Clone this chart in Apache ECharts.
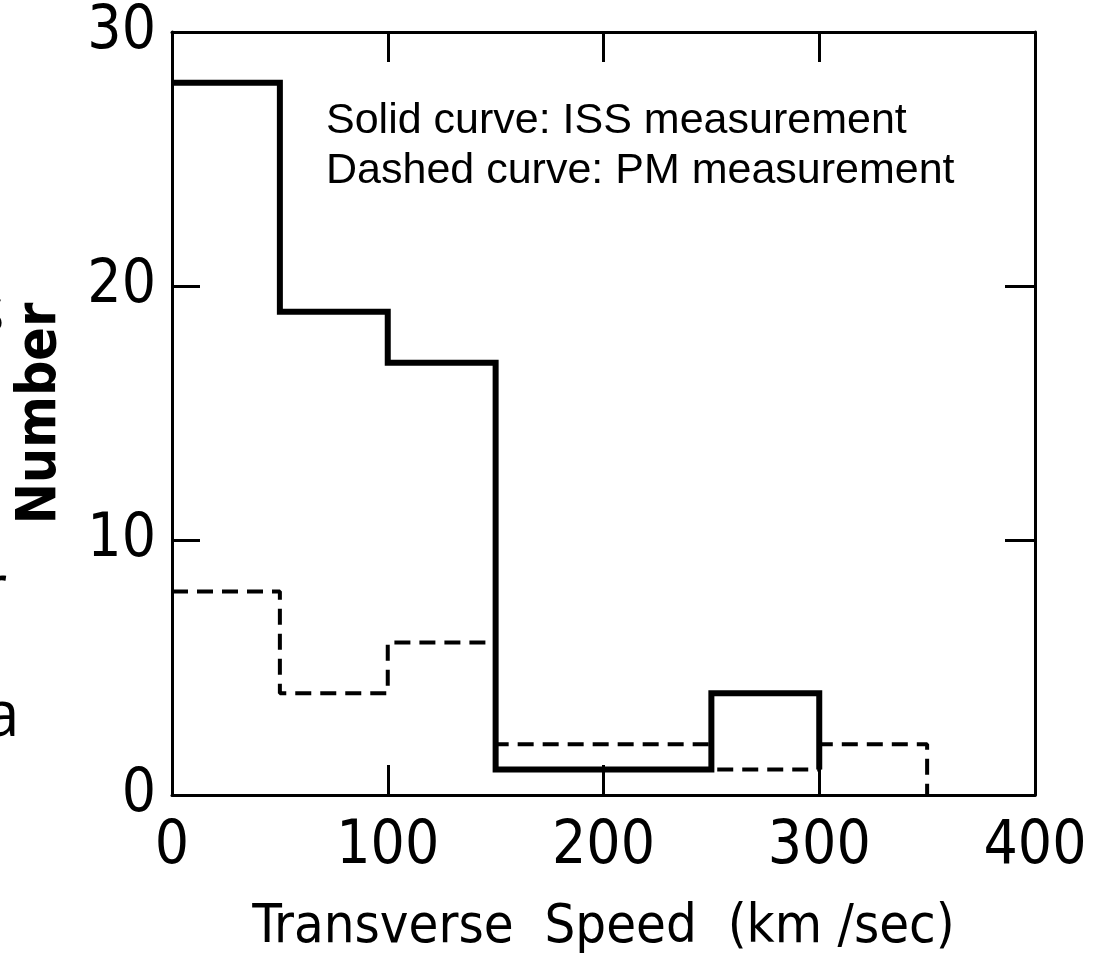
<!DOCTYPE html>
<html>
<head>
<meta charset="utf-8">
<script src="https://cdn.jsdelivr.net/npm/echarts@6/dist/echarts.min.js"></script>
<style>
html,body{margin:0;padding:0;background:#fff;}
#chart{width:1099px;height:960px;}
</style>
</head>
<body>
<div id="chart"></div>
<script>
// ---- data ----
const xTicks = [0, 100, 200, 300, 400];
const yTicks = [0, 10, 20, 30];
// ISS measurement (solid): bin edges and counts
const issEdges = [0, 50, 100, 150, 250, 300];
const issCounts = [28, 19, 17, 1, 4];
const issTail = 1;
// PM measurement (dashed): bin edges and counts
const pmEdges = [0, 50, 100, 150, 250, 300, 350];
const pmCounts = [8, 4, 6, 2, 1, 2];
const pmTail = 0;
const xTitle = 'Transverse  Speed  (km /sec)';
const yTitle = 'Number';
const noteLines = ['Solid curve: ISS measurement', 'Dashed curve: PM measurement'];
const sideFragments = ['s', 'r', 'a'];

function stepData(edges, counts, tail) {
  return edges.map((e, i) => [e, i < counts.length ? counts[i] : tail]);
}

const chart = echarts.init(document.getElementById('chart'), null, {renderer: 'canvas'});
const FONT = 'DejaVu Sans Condensed';
const axisLineStyle = {color: '#000', width: 3};

const option = {
  backgroundColor: '#fff',
  animation: false,
  grid: {left: 172, right: 64, top: 32, bottom: 164, containLabel: false},
  xAxis: [
    {
      type: 'value', min: 0, max: 400, interval: 100, position: 'bottom',
      axisLine: {show: true, onZero: false, lineStyle: axisLineStyle},
      axisTick: {show: true, inside: true, length: 30, lineStyle: {color: '#000', width: 3}},
      splitLine: {show: false},
      axisLabel: {color: '#000', fontSize: 60, fontFamily: FONT, margin: 22,
        formatter: v => xTicks.includes(v) ? String(v) : ''},
      name: xTitle, nameLocation: 'middle', nameGap: 106,
      nameTextStyle: {color: '#000', fontSize: 54, fontFamily: FONT}
    },
    {
      type: 'value', min: 0, max: 400, interval: 100, position: 'top',
      axisLine: {show: true, onZero: false, lineStyle: axisLineStyle},
      axisTick: {show: true, inside: true, length: 30, lineStyle: {color: '#000', width: 3}},
      splitLine: {show: false}, axisLabel: {show: false}
    }
  ],
  yAxis: [
    {
      type: 'value', min: 0, max: 30, interval: 10, position: 'left',
      axisLine: {show: true, onZero: false, lineStyle: axisLineStyle},
      axisTick: {show: true, inside: true, length: 28, lineStyle: {color: '#000', width: 3}},
      splitLine: {show: false},
      axisLabel: {color: '#000', fontSize: 60, fontFamily: FONT, margin: 16,
        formatter: v => yTicks.includes(v) ? String(v) : ''},
      name: yTitle, nameLocation: 'middle', nameGap: 104, nameRotate: 90,
      nameTextStyle: {color: '#000', fontSize: 55, fontWeight: 'bold', fontFamily: FONT}
    },
    {
      type: 'value', min: 0, max: 30, interval: 10, position: 'right',
      axisLine: {show: true, onZero: false, lineStyle: axisLineStyle},
      axisTick: {show: true, inside: true, length: 30, lineStyle: {color: '#000', width: 3}},
      splitLine: {show: false}, axisLabel: {show: false}
    }
  ],
  series: [
    {
      name: 'PM measurement', type: 'line', step: 'end', xAxisIndex: 0, yAxisIndex: 0,
      data: stepData(pmEdges, pmCounts, pmTail),
      showSymbol: false, symbol: 'none',
      lineStyle: {color: '#000', width: 4, type: [16, 9]}, z: 3
    },
    {
      name: 'ISS measurement', type: 'line', step: 'end', xAxisIndex: 0, yAxisIndex: 0,
      data: stepData(issEdges, issCounts, issTail),
      showSymbol: false, symbol: 'none',
      lineStyle: {color: '#000', width: 6, join: 'miter'}, z: 4
    }
  ],
  graphic: [
    {type: 'text', left: 326, top: 100, style: {text: noteLines[0], fill: '#000', font: '43px "Liberation Sans", Arial, sans-serif'}},
    {type: 'text', left: 326, top: 150, style: {text: noteLines[1], fill: '#000', font: '43px "Liberation Sans", Arial, sans-serif'}},
    {type: 'text', x: -26, y: 282, style: {text: sideFragments[0], fill: '#000', font: '64px "Open Sans", sans-serif'}},
    {type: 'text', x: -19, y: 560, style: {text: sideFragments[1], fill: '#000', font: '64px "Open Sans", sans-serif'}},
    {type: 'text', x: -16, y: 686, style: {text: sideFragments[2], fill: '#000', font: '64px "Open Sans", sans-serif'}}
  ]
};
chart.setOption(option);
</script>
</body>
</html>
